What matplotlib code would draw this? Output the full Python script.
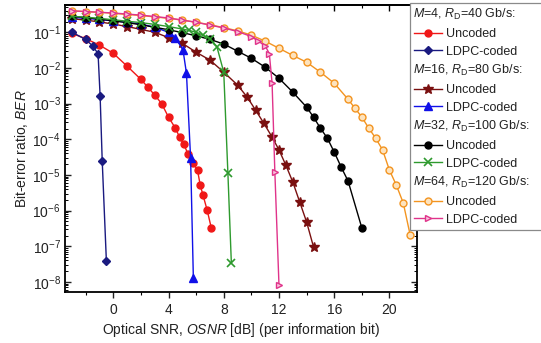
import matplotlib
matplotlib.use("Agg")
import matplotlib.pyplot as plt
import numpy as np
from matplotlib.lines import Line2D
from matplotlib.ticker import FixedLocator, LogFormatterSciNotation, NullFormatter

plt.rcParams['font.family'] = ['Liberation Sans', 'DejaVu Sans']
plt.rcParams['mathtext.fontset'] = 'custom'
plt.rcParams['mathtext.rm'] = 'Liberation Sans'
plt.rcParams['mathtext.it'] = 'Liberation Sans:italic'

#### Data (OSNR in dB, BER as log10)
m4_unc_x = [-3, -2, -1, 0, 1, 2, 2.5, 3, 3.5, 4, 4.5, 4.8, 5.1, 5.4, 5.8, 6.1, 6.3, 6.5, 6.8, 7.1]
m4_unc_y = [-1.03, -1.18, -1.36, -1.59, -1.95, -2.32, -2.54, -2.76, -3.0, -3.38, -3.69, -3.94,
            -4.14, -4.4, -4.67, -4.87, -5.29, -5.57, -5.99, -6.49]
m4_ldpc_x = [-3, -2, -1.5, -1.1, -0.95, -0.8, -0.5]
m4_ldpc_y = [-1.0, -1.2, -1.38, -1.6, -2.8, -4.6, -7.4]

m16_unc_x = [-3, -2, -1, 0, 1, 2, 3, 4, 5, 6, 7, 8, 9, 9.7, 10.3, 10.9, 11.5, 12, 12.5, 13, 13.5, 14, 14.5]
m16_unc_y = [-0.62, -0.66, -0.71, -0.77, -0.84, -0.92, -1.0, -1.15, -1.31, -1.56, -1.78, -2.12,
             -2.48, -2.82, -3.18, -3.55, -3.94, -4.3, -4.73, -5.2, -5.76, -6.32, -7.02]
m16_ldpc_x = [-3, -2, -1, 0, 1, 2, 3, 4, 4.5, 5.05, 5.3, 5.6, 5.8]
m16_ldpc_y = [-0.58, -0.61, -0.64, -0.68, -0.72, -0.77, -0.86, -1.0, -1.15, -1.5, -2.15, -4.53, -7.9]

m32_unc_x = [-3, -2, -1, 0, 1, 2, 3, 4, 5, 6, 7, 8, 9, 10, 11, 12, 13, 14, 14.5, 15, 15.5, 16, 16.5, 17, 18]
m32_unc_y = [-0.55, -0.59, -0.63, -0.68, -0.73, -0.79, -0.86, -0.93, -1.01, -1.1, -1.2, -1.33,
             -1.53, -1.73, -1.98, -2.29, -2.68, -3.1, -3.38, -3.69, -3.97, -4.36, -4.78, -5.17, -6.49]
m32_ldpc_x = [-3, -2, -1, 0, 1, 2, 3, 4, 5, 5.5, 6, 6.5, 7, 7.5, 8, 8.3, 8.55]
m32_ldpc_y = [-0.55, -0.58, -0.61, -0.65, -0.69, -0.73, -0.78, -0.84, -0.91, -0.95, -1.0, -1.08,
              -1.18, -1.4, -2.12, -4.95, -7.47]

m64_unc_x = [-3, -2, -1, 0, 1, 2, 3, 4, 5, 6, 7, 8, 9, 10, 11, 12, 13, 14, 15, 16, 17, 17.5,
             18, 18.5, 19, 19.5, 20, 20.5, 21, 21.5]
m64_unc_y = [-0.4, -0.42, -0.44, -0.47, -0.5, -0.53, -0.57, -0.61, -0.66, -0.72, -0.79, -0.87,
             -0.96, -1.08, -1.25, -1.45, -1.65, -1.84, -2.12, -2.43, -2.88, -3.13, -3.38, -3.69,
             -3.97, -4.3, -4.87, -5.29, -5.79, -6.69]
m64_ldpc_x = [-3, -2, -1, 0, 1, 2, 3, 4, 5, 6, 7, 8, 9, 10, 10.5, 11, 11.3, 11.5, 11.7, 12]
m64_ldpc_y = [-0.4, -0.42, -0.44, -0.46, -0.49, -0.52, -0.56, -0.6, -0.66, -0.72, -0.8, -0.88,
              -0.98, -1.12, -1.25, -1.38, -1.6, -2.43, -4.92, -8.1]

headers = [r"$\mathit{M}$=4, $\mathit{R}_\mathrm{D}$=40 Gb/s:",
           r"$\mathit{M}$=16, $\mathit{R}_\mathrm{D}$=80 Gb/s:",
           r"$\mathit{M}$=32, $\mathit{R}_\mathrm{D}$=100 Gb/s:",
           r"$\mathit{M}$=64, $\mathit{R}_\mathrm{D}$=120 Gb/s:"]

x_major = [0, 4, 8, 12, 16, 20]
x_minor = [-2, 2, 6, 10, 14, 18]
y_major = [10.0 ** e for e in range(-8, 0)]
y_minor = [m * 10.0 ** e for e in range(-9, 0) for m in range(2, 10)
           if 10 ** -8.28 < m * 10.0 ** e < 10 ** -0.24]

#### Figure
fig = plt.figure(figsize=(5.41, 3.43), dpi=100)
ax = fig.add_axes([0.120, 0.149, 0.651, 0.836])

def tracer(x, logy, color, marker, ms, mfc=None, mew=1.0):
    line, = ax.plot(x, 10.0 ** np.array(logy), color=color, marker=marker, ms=ms,
                    mfc=mfc if mfc else color, mec=color, mew=mew, lw=1.0)
    return line

series = [
    tracer(m4_unc_x, m4_unc_y, "#F01818", "o", 5),
    tracer(m4_ldpc_x, m4_ldpc_y, "#1A1A80", "D", 4.5),
    tracer(m16_unc_x, m16_unc_y, "#7A1010", "*", 7),
    tracer(m16_ldpc_x, m16_ldpc_y, "#1010E8", "^", 5.5),
    tracer(m32_unc_x, m32_unc_y, "#000000", "o", 5),
    tracer(m32_ldpc_x, m32_ldpc_y, "#2E9A2E", "x", 6, mew=1.2),
    tracer(m64_unc_x, m64_unc_y, "#F39420", "o", 5, mfc="#FDE3BE"),
    tracer(m64_ldpc_x, m64_ldpc_y, "#E0338A", ">", 5, mfc="#F8C3DC"),
]

ax.set_yscale("log")
ax.set_xlim(-3.5, 22)
ax.set_ylim(10 ** -8.28, 10 ** -0.24)
ax.xaxis.set_major_locator(FixedLocator(x_major))
ax.xaxis.set_minor_locator(FixedLocator(x_minor))
ax.yaxis.set_major_locator(FixedLocator(y_major))
ax.yaxis.set_major_formatter(LogFormatterSciNotation())
ax.yaxis.set_minor_locator(FixedLocator(y_minor))
ax.yaxis.set_minor_formatter(NullFormatter())

ax.tick_params(axis="x", which="major", direction="out", length=4, width=1, labelsize=10,
               colors="#222222", pad=4)
ax.tick_params(axis="x", which="minor", direction="out", length=2.5, width=0.8)
ax.tick_params(axis="y", which="major", direction="in", length=4, width=1, labelsize=10,
               colors="#222222", right=True, pad=3)
ax.tick_params(axis="y", which="minor", direction="in", length=2, width=0.7, right=True)

top = ax.secondary_xaxis("top")
top.xaxis.set_major_locator(FixedLocator(x_major))
top.xaxis.set_minor_locator(FixedLocator(x_minor))
top.tick_params(which="major", direction="in", length=4, width=1, labeltop=False)
top.tick_params(which="minor", direction="in", length=2.5, width=0.8)

for s in ax.spines.values():
    s.set_linewidth(1.3)
top.spines["top"].set_linewidth(1.3)

ax.set_xlabel(r"Optical SNR, $\mathit{OSNR}$ [dB] (per information bit)", fontsize=10,
              color="#222222", labelpad=3)
ax.set_ylabel(r"Bit-error ratio, $\mathit{BER}$", fontsize=10, color="#222222", labelpad=2)

#### Legend with header rows
vide = Line2D([], [], linestyle="none", marker="none")
handles, labels = [], []
for k in range(4):
    handles += [vide, series[2 * k], series[2 * k + 1]]
    labels += [headers[k], "Uncoded", "LDPC-coded"]

leg = fig.legend(handles, labels, loc="upper left", bbox_to_anchor=(410 / 541, 1 - 3 / 343),
                 fontsize=9, frameon=True, fancybox=False, edgecolor="#8A8A8A",
                 framealpha=1, borderpad=0.35, borderaxespad=0, handlelength=2.2,
                 handletextpad=0.35, labelspacing=0.45)
leg.get_frame().set_linewidth(0.9)
for t in leg.get_texts():
    t.set_color("#222222")
for i in range(0, 12, 3):
    leg.get_texts()[i].set_x(-33)

plt.savefig("out.png", dpi=100)
